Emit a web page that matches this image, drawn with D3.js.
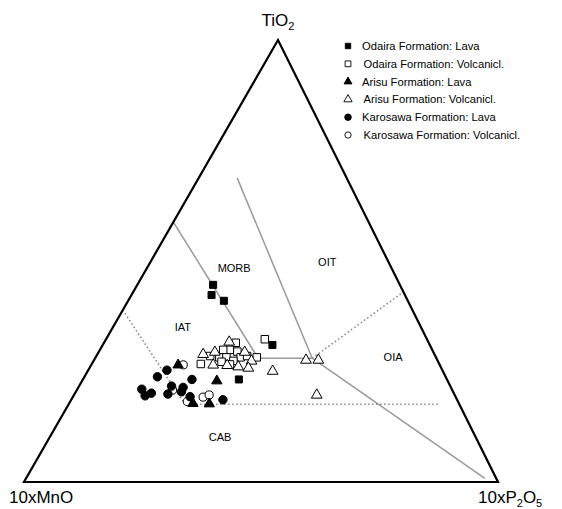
<!DOCTYPE html>
<html><head><meta charset="utf-8">
<script src="https://cdn.jsdelivr.net/npm/d3@7"></script>
<style>body{margin:0;background:#fff}svg{display:block}text{font-family:"Liberation Sans",Arial,sans-serif}</style>
</head><body><svg id="c" width="562" height="509"></svg>
<script>
// Ternary data: [TiO2, 10xMnO, 10xP2O5] in %
const odairaLava = [[44.6,39.4,16.0],[42.3,40.8,16.9],[41.0,38.8,20.2],[31.0,33.2,35.8],[23.2,43.9,32.9]];
const odairaVolc = [[31.5,40.7,27.8],[29.9,42.7,27.4],[29.9,44.1,26.0],[29.5,41.3,29.2],[28.5,47.5,24.0],[28.2,45.7,26.1],[28.2,44.2,27.6],[28.2,41.2,30.6],[28.5,39.7,31.8],[28.2,37.8,34.0],[26.7,50.3,23.0],[27.2,45.7,27.1],[27.4,43.1,29.5],[26.6,44.2,29.2],[32.3,34.2,33.5]];
const arisuLava = [[26.7,55.1,18.2],[23.1,48.6,28.3],[18.0,56.0,26.0],[17.9,52.6,29.5]];
const arisuVolc = [[31.9,41.9,26.2],[29.1,48.7,22.2],[29.6,46.0,24.4],[29.6,39.7,30.7],[27.6,39.2,33.2],[26.7,47.7,25.6],[26.6,44.8,28.6],[26.3,42.6,31.1],[26.0,40.6,33.4],[25.3,35.8,38.9],[27.8,27.6,44.6],[27.8,25.0,47.2],[19.9,29.0,51.1]];
const karoLava = [[25.3,58.1,16.6],[23.8,60.8,15.4],[23.2,53.8,23.0],[21.7,58.8,19.5],[21.4,56.5,22.1],[20.4,57.3,22.3],[19.9,60.4,19.7],[21.0,65.4,13.6],[19.5,65.4,15.1],[20.1,63.8,16.1],[19.3,56.0,24.7],[18.6,49.4,32.0]];
const karoVolc = [[26.5,54.1,19.4],[20.8,59.0,20.2],[18.2,57.1,24.7],[19.2,53.3,27.5],[19.7,51.8,28.5]];
const seriesNames = ["Odaira Formation: Lava","Odaira Formation: Volcanicl.","Arisu Formation: Lava","Arisu Formation: Volcanicl.","Karosawa Formation: Lava","Karosawa Formation: Volcanicl."];
// field boundaries (ternary points)
const solidLines = [
  [[58.8,41.2,0],[28,37.6,34.4],[28,26.2,45.8]],
  [[68.8,23.1,8.1],[28,26.2,45.8]],
  [[28,26.2,45.8],[0.8,2.4,96.8]]
];
const dottedLines = [
  [[28,26.2,45.8],[43,0,57]],
  [[38.9,61.1,0],[17.6,57.9,24.5],[17.6,4.1,78.3]]
];
const fieldLabels = [["MORB",[48.4,33.2,18.4]],["OIT",[49.8,12.9,37.3]],["IAT",[35.1,50.2,14.7]],["OIA",[28.3,9.0,62.7]],["CAB",[10.2,53.9,35.9]]];

const svg = d3.select("#c");
const yT = d3.scaleLinear().domain([0,100]).range([482,40]);
const xT = d3.scaleLinear().domain([0,100]).range([24,278]);
const xP = d3.scaleLinear().domain([0,100]).range([0,474]);
const proj = d => [xT(d[0]) + xP(d[2]), yT(d[0])];
const line = d3.line().x(d=>proj(d)[0]).y(d=>proj(d)[1]);

// boundaries
svg.selectAll(".sl").data(solidLines).join("path").attr("d",line)
  .attr("fill","none").attr("stroke","#9a9a9a").attr("stroke-width",1.5);
svg.selectAll(".dl").data(dottedLines).join("path").attr("d",line)
  .attr("fill","none").attr("stroke","#8a8a8a").attr("stroke-width",1.6).attr("stroke-dasharray","1.5,2.5");

// triangle
svg.append("path").attr("d", line([[100,0,0],[0,100,0],[0,0,100]])+"Z")
  .attr("fill","none").attr("stroke","#000").attr("stroke-width",2.2).attr("stroke-linejoin","miter");

// field labels
svg.selectAll(".fl").data(fieldLabels).join("text")
  .attr("x",d=>proj(d[1])[0]).attr("y",d=>proj(d[1])[1]).attr("dy",4)
  .attr("text-anchor","middle").attr("font-size",11).text(d=>d[0]);

// axis labels
const t1 = svg.append("text").attr("x",278).attr("y",26).attr("text-anchor","middle").attr("font-size",17);
t1.append("tspan").text("TiO");t1.append("tspan").attr("font-size",11).attr("dy",4).text("2");
svg.append("text").attr("x",9).attr("y",503).attr("font-size",17).text("10xMnO");
const t3 = svg.append("text").attr("x",478).attr("y",503).attr("font-size",17);
t3.append("tspan").text("10xP");t3.append("tspan").attr("font-size",11).attr("dy",4).text("2");
t3.append("tspan").attr("dy",-4).text("O");t3.append("tspan").attr("font-size",11).attr("dy",4).text("5");

const styles = [
  {sym:d3.symbolSquare,size:49,fill:"#000"},
  {sym:d3.symbolSquare,size:56,fill:"#fff"},
  {sym:d3.symbolTriangle,size:46,fill:"#000"},
  {sym:d3.symbolTriangle,size:50,fill:"#fff"},
  {sym:d3.symbolCircle,size:56,fill:"#000"},
  {sym:d3.symbolCircle,size:52,fill:"#fff"}
];
const allSeries = [odairaLava,odairaVolc,arisuLava,arisuVolc,karoLava,karoVolc];
// draw open first then filled
[1,3,5,0,2,4].forEach(i=>{
  const s = styles[i];
  svg.append("g").selectAll("path").data(allSeries[i]).join("path")
    .attr("transform",d=>{const p=proj(d);return `translate(${p[0]},${p[1]+(s.sym===d3.symbolTriangle?1:0)})`;})
    .attr("d",d3.symbol().type(s.sym).size(s.size))
    .attr("fill",s.fill).attr("stroke","#000").attr("stroke-width",1);
});

// legend
const lg = svg.append("g");
seriesNames.forEach((n,i)=>{
  const y = 50 + i*17.8;
  const s = styles[i];
  lg.append("path").attr("transform",`translate(348,${y-4})`)
    .attr("d",d3.symbol().type(s.sym).size(s.size*0.6))
    .attr("fill",s.fill).attr("stroke","#000").attr("stroke-width",0.9);
  lg.append("text").attr("x",362 + (i%2)*1.5).attr("y",y).attr("font-size",11.2).text(n);
});
</script></body></html>
